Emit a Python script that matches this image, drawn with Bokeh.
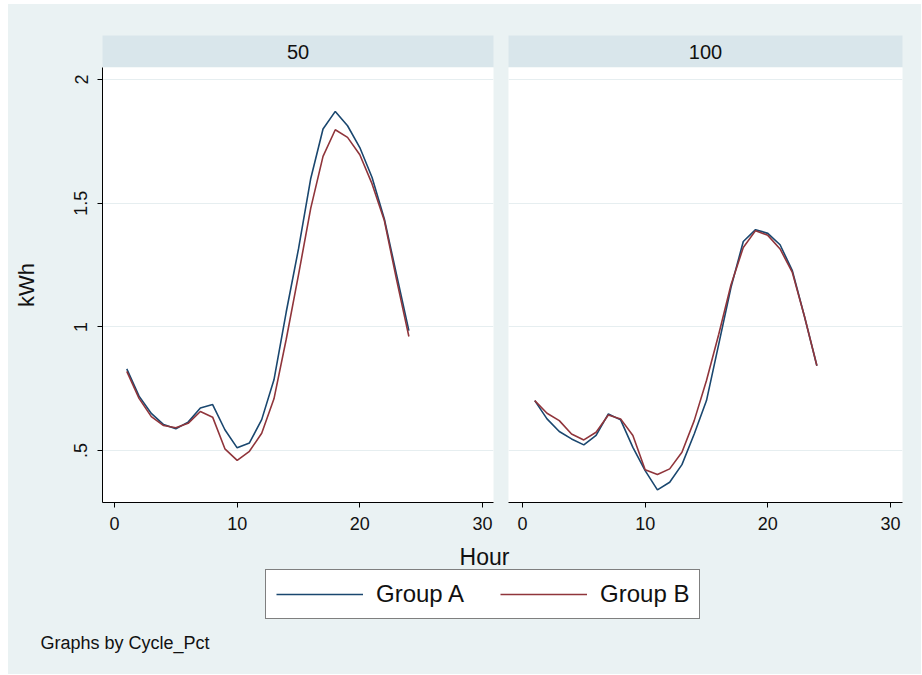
from bokeh.plotting import figure
from bokeh.models import (Range1d, LinearAxis, Grid, FixedTicker, Label, Legend, LegendItem)
from bokeh.layouts import row, column
from bokeh.embed import file_html
from bokeh.resources import INLINE

# ---- data ----
hours = [1, 2, 3, 4, 5, 6, 7, 8, 9, 10, 11, 12, 13, 14, 15, 16, 17, 18, 19, 20, 21, 22, 23, 24]
panels = ["50", "100"]
group_names = ["Group A", "Group B"]
a_50 = [0.83, 0.72, 0.65, 0.605, 0.588, 0.615, 0.672, 0.686, 0.584, 0.511, 0.531, 0.625,
        0.786, 1.06, 1.315, 1.60, 1.80, 1.871, 1.813, 1.725, 1.604, 1.436, 1.21, 0.985]
b_50 = [0.82, 0.711, 0.637, 0.601, 0.592, 0.61, 0.658, 0.635, 0.507, 0.46, 0.497, 0.57,
        0.709, 0.95, 1.21, 1.48, 1.689, 1.797, 1.766, 1.696, 1.578, 1.43, 1.19, 0.961]
a_100 = [0.702, 0.628, 0.577, 0.547, 0.523, 0.561, 0.648, 0.624, 0.513, 0.419, 0.341, 0.372,
         0.443, 0.567, 0.702, 0.93, 1.16, 1.345, 1.393, 1.378, 1.332, 1.227, 1.04, 0.843]
b_100 = [0.702, 0.651, 0.621, 0.567, 0.543, 0.574, 0.644, 0.628, 0.561, 0.422, 0.403, 0.426,
         0.493, 0.621, 0.783, 0.97, 1.17, 1.321, 1.389, 1.37, 1.315, 1.22, 1.04, 0.843]
x_ticks = [0, 10, 20, 30]
y_ticks = [0.5, 1, 1.5, 2]
y_tick_labels = [".5", "1", "1.5", "2"]

# ---- style ----
BG = "#EAF2F3"
STRIP = "#D9E6EB"
GRID = "#E6EEF0"
BLUE = "#1A476F"
RED = "#90353B"
FONT = "Liberation Sans"


def strip_fig(text, w, bl, br):
    s = figure(width=w, height=63, x_range=Range1d(0, 1), y_range=Range1d(0, 1),
               x_axis_type=None, y_axis_type=None, toolbar_location=None,
               output_backend="svg", min_border=0, min_border_left=bl,
               min_border_right=br, min_border_top=31, min_border_bottom=0)
    s.background_fill_color = STRIP
    s.border_fill_color = BG
    s.outline_line_color = None
    s.grid.visible = False
    s.add_layout(Label(x=0.5, y=0.5, text=text, text_align="center",
                       text_baseline="middle", text_font=FONT,
                       text_font_size="20px", text_color="#111111"))
    return s


def panel_fig(w, bl, br, xr, ya, yb, with_yaxis):
    p = figure(width=w, height=478, x_range=Range1d(*xr), y_range=Range1d(0.29, 2.0485),
               x_axis_type=None, y_axis_type=None, toolbar_location=None,
               output_backend="svg", min_border=0, min_border_left=bl,
               min_border_right=br, min_border_top=0, min_border_bottom=43)
    p.background_fill_color = "white"
    p.border_fill_color = BG
    p.outline_line_color = None
    xa = LinearAxis(ticker=FixedTicker(ticks=x_ticks))
    xa.major_tick_out = 5
    xa.major_tick_in = 0
    xa.minor_tick_out = 0
    xa.minor_tick_in = 0
    xa.axis_line_color = "black"
    xa.major_tick_line_color = "black"
    xa.major_label_standoff = 9
    xa.major_label_text_font = FONT
    xa.major_label_text_font_size = "18px"
    xa.major_label_text_color = "#111111"
    p.add_layout(xa, "below")
    p.add_layout(Grid(dimension=1, ticker=FixedTicker(ticks=y_ticks),
                      grid_line_color=GRID, grid_line_width=1.2))
    if with_yaxis:
        yax = LinearAxis(ticker=FixedTicker(ticks=y_ticks))
        yax.major_label_overrides = {t: l for t, l in zip(y_ticks, y_tick_labels)}
        yax.major_tick_out = 5
        yax.major_tick_in = 0
        yax.minor_tick_out = 0
        yax.minor_tick_in = 0
        yax.axis_line_color = "black"
        yax.major_tick_line_color = "black"
        yax.major_label_orientation = "vertical"
        yax.major_label_standoff = 10
        yax.major_label_text_font = FONT
        yax.major_label_text_font_size = "18px"
        yax.major_label_text_color = "#111111"
        yax.axis_label = "kWh"
        yax.axis_label_standoff = 33
        yax.axis_label_text_font = FONT
        yax.axis_label_text_font_size = "22px"
        yax.axis_label_text_font_style = "normal"
        yax.axis_label_text_color = "#111111"
        p.add_layout(yax, "left")
    p.line(hours, ya, line_color=BLUE, line_width=1.6)
    p.line(hours, yb, line_color=RED, line_width=1.6)
    return p


sL = strip_fig(panels[0], 493, 92, 8)
pL = panel_fig(493, 94, 8, (-0.98, 30.9), a_50, b_50, True)
sR = strip_fig(panels[1], 420, 7, 19)
pR = panel_fig(420, 7, 19, (-1.14, 30.98), a_100, b_100, False)

# bottom area: x title, legend, note
bot = figure(width=913, height=129, x_range=Range1d(0, 913), y_range=Range1d(0, 129),
             x_axis_type=None, y_axis_type=None, toolbar_location=None,
             output_backend="svg", min_border=0)
bot.background_fill_color = BG
bot.border_fill_color = BG
bot.outline_line_color = None
bot.grid.visible = False
bot.extra_y_ranges = {"offscreen": Range1d(100, 101)}
bot.add_layout(Label(x=476, y=118, text="Hour", text_align="center", text_baseline="middle",
                     text_font=FONT, text_font_size="23px", text_color="#111111"))
bot.add_layout(Label(x=32, y=32, text="Graphs by Cycle_Pct", text_align="left",
                     text_baseline="middle", text_font=FONT, text_font_size="18px",
                     text_color="#111111"))
# legend proxies: same series, mapped to an off-screen range so only the key shows
rA = bot.line(hours, a_50, line_color=BLUE, line_width=1.6, y_range_name="offscreen")
rB = bot.line(hours, b_50, line_color=RED, line_width=1.6, y_range_name="offscreen")
leg = Legend(items=[LegendItem(label=group_names[0], renderers=[rA]),
                    LegendItem(label=group_names[1], renderers=[rB])],
             location=(257, 55), orientation="horizontal")
leg.border_line_color = "black"
leg.border_line_width = 1
leg.background_fill_color = "white"
leg.background_fill_alpha = 1
leg.label_text_font = FONT
leg.label_text_font_size = "24px"
leg.label_text_color = "#111111"
leg.glyph_width = 87
leg.glyph_height = 20
leg.label_standoff = 13
leg.spacing = 36
leg.padding = 10
leg.margin = 0
bot.add_layout(leg)

layout = column(row(column(sL, pL), column(sR, pR)), bot,
                styles={"background-color": BG})
layout.margin = (4, 0, 0, 8)

open("out.html", "w").write(file_html(layout, INLINE))
